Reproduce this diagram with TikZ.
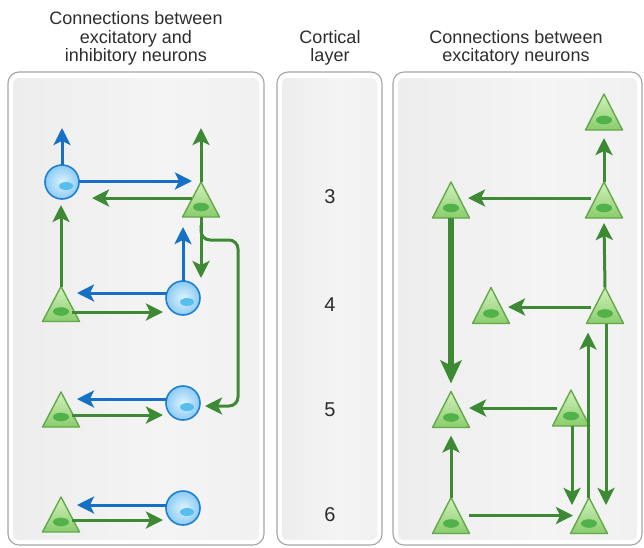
\documentclass[tikz,border=0pt]{standalone}
\usepackage{fontspec}
\setmainfont{Liberation Sans}
\usetikzlibrary{arrows.meta,calc}
\definecolor{garr}{RGB}{62,138,52}
\definecolor{barr}{RGB}{22,112,196}
\definecolor{triedge}{RGB}{98,170,72}
\definecolor{tritop}{RGB}{212,240,190}
\definecolor{tribot}{RGB}{138,204,108}
\definecolor{trinucc}{RGB}{80,178,72}
\definecolor{cedge}{RGB}{30,128,208}
\definecolor{cin}{RGB}{222,243,254}
\definecolor{cout}{RGB}{140,203,244}
\definecolor{cnucc}{RGB}{88,190,238}
\definecolor{pborder}{RGB}{165,165,165}
\definecolor{pA}{RGB}{220,220,220}
\definecolor{pB}{RGB}{234,234,234}
\definecolor{pC}{RGB}{244,244,244}
\definecolor{pD}{RGB}{237,237,237}
\definecolor{txt}{RGB}{45,45,45}
\pgfdeclarehorizontalshading{panelsh}{100bp}{color(0bp)=(pA); color(5bp)=(pA); color(12bp)=(pB); color(55bp)=(pC); color(100bp)=(pD)}
\tikzset{
  panel/.style={draw=pborder, line width=1.1pt, fill=white, rounded corners=11pt},
  panelin/.style={shading=panelsh, rounded corners=6pt},
  ttl/.style={font=\fontsize{18}{18}\selectfont, text=txt, anchor=base, inner sep=0pt},
  num/.style={font=\fontsize{20}{20}\selectfont, text=txt, inner sep=0pt},
  trinode/.style={minimum width=37pt, minimum height=35pt, inner sep=0pt, outer sep=0pt},
  trifill/.style={draw=triedge, line width=1.4pt, top color=tritop, bottom color=tribot, line join=round},
  cirnode/.style={circle, minimum size=34pt, inner sep=0pt, outer sep=0pt, draw=cedge, line width=1.6pt, inner color=cin, outer color=cout},
  garrow/.style={draw=garr, line width=3pt, -{Stealth[length=17pt, width=17pt, inset=4pt]}},
  barrow/.style={draw=barr, line width=3pt, -{Stealth[length=17pt, width=17pt, inset=4pt]}},
  gthick/.style={draw=garr, line width=6pt, -{Stealth[length=23pt, width=21pt, inset=5pt]}},
}
\newcommand\trineuron[3][35pt]{%
  \node[trinode, minimum height=#1] (#2) at (#3) {};
  \path[trifill] (#2.north) -- (#2.south east) -- (#2.south west) -- cycle;
  \fill[trinucc] ($(#2.south)+(0,-10)$) ellipse [x radius=8, y radius=4.3];
}
\newcommand\cirneuron[2]{%
  \node[cirnode] (#1) at (#2) {};
  \fill[cnucc] ($(#1.center)+(4,4)$) ellipse [x radius=7, y radius=4];
}
\begin{document}
\begin{tikzpicture}[x=1pt, y=-1pt]
\useasboundingbox (0,0) rectangle (644,547);
% panels
\draw[panel] (8,72) rectangle (264,545);
\shade[panelin] (13,78) rectangle (259,540);
\draw[panel] (277,72) rectangle (382,545);
\shade[panelin] (282,78) rectangle (377,540);
\draw[panel] (393,72) rectangle (642,545);
\shade[panelin] (398,78) rectangle (637,540);
% titles
\node[ttl] (tl1) at (136,24) {Connections between};
\node[ttl] (tl2) at (136,43) {excitatory and};
\node[ttl] (tl3) at (136,61.5) {inhibitory neurons};
\node[ttl] (tm1) at (330,43) {Cortical};
\node[ttl] (tm2) at (330,61.5) {layer};
\node[ttl] (tr1) at (516,43) {Connections between};
\node[ttl] (tr2) at (516,61.5) {excitatory neurons};
% layer numbers
\node[num] (n3) at (330,197) {3};
\node[num] (n4) at (330,305) {4};
\node[num] (n5) at (330,410) {5};
\node[num] (n6) at (330,515) {6};
% left panel neurons
\cirneuron{C3}{62,182}
\trineuron{T3L}{201,199.5}
\cirneuron{C4}{183,298}
\trineuron{T4L}{61,304}
\cirneuron{C5}{183,403}
\trineuron{T5L}{61,409.5}
\cirneuron{C6}{183,508}
\trineuron{T6L}{61,514.5}
% right panel neurons
\trineuron[36pt]{R1}{604,112}
\trineuron[36pt]{R2}{604,200}
\trineuron[36pt]{R3}{451,200}
\trineuron[36pt]{R4}{605,305.5}
\trineuron[36pt]{R4b}{491,305.5}
\trineuron[36pt]{R5}{451,409.5}
\trineuron[36pt]{R6}{571,408}
\trineuron[36pt]{R7}{451,515.5}
\trineuron[36pt]{R8}{589,515.5}
% left panel connectors
\draw[barrow] (C3.north) -- ++(0,-37);
\draw[barrow] ($(C3.east)+(0,-1)$) -- ($(C3.east -| T3L.north)+(-9,-1)$);
\draw[garrow] ($(T3L.center)+(-9,-1.5)$) -- ($(C3.center)+(30,16)$);
\draw[garrow] (T3L.north) -- ++(0,-54);
\draw[garrow] (T3L.south) -- ++(0,61);
\coordinate (loopA) at (238,240);
\draw[garrow, rounded corners=9pt] ($(T3L.south)+(0,8)$) |- (loopA) |- ($(C5.east)+(5,3)$);
\draw[barrow] (C4.north) -- ++(0,-54);
\draw[barrow] ($(C4.center)+(-16,-5)$) -- ($(T4L.center)+(16,-11)$);
\draw[garrow] ($(T4L.center)+(11,8)$) -- ($(C4.center)+(-20,14)$);
\draw[garrow] (T4L.north) -- ($(T4L.north |- C3.south)+(0,6)$);
\draw[barrow] ($(C5.center)+(-16,-4)$) -- ($(T5L.center)+(16,-10.5)$);
\draw[garrow] ($(T5L.center)+(11,5.5)$) -- ($(C5.center)+(-20,12)$);
\draw[barrow] ($(C6.center)+(-16.5,-3)$) -- ($(T6L.center)+(16,-9.5)$);
\draw[garrow] ($(T6L.center)+(11,5.5)$) -- ($(C6.center)+(-20,12)$);
% right panel connectors
\draw[garrow] (R2.north) -- ($(R1.south)+(0,8)$);
\draw[garrow] ($(R2.center)+(-13,-2)$) -- ($(R3.center)+(17,-2)$);
\draw[gthick] (R3.south) -- ($(R5.north)+(0,-8)$);
\draw[garrow] ($(R4.center)+(-14,1.5)$) -- ($(R4b.center)+(17,1.5)$);
\draw[garrow] (R4.north) -- ($(R2.south)+(0,5)$);
\draw[garrow] ($(R6.center)+(-14,0)$) -- ($(R5.center)+(18,-1.5)$);
\draw[garrow] ($(R6.south)+(1,0)$) -- ($(R8.center)+(-17,-10.5)$);
\draw[garrow] ($(R7.center)+(18,0)$) -- ($(R8.center)+(-16,0)$);
\draw[garrow] (R7.north) -- ($(R5.south)+(0,8)$);
\draw[garrow] ($(R8.north)+(-1,0)$) -- ($(R4.south)+(-17,9)$);
\draw[garrow] ($(R4.south)+(1,0)$) -- ($(R8.center)+(17,-10.5)$);
\end{tikzpicture}
\end{document}
